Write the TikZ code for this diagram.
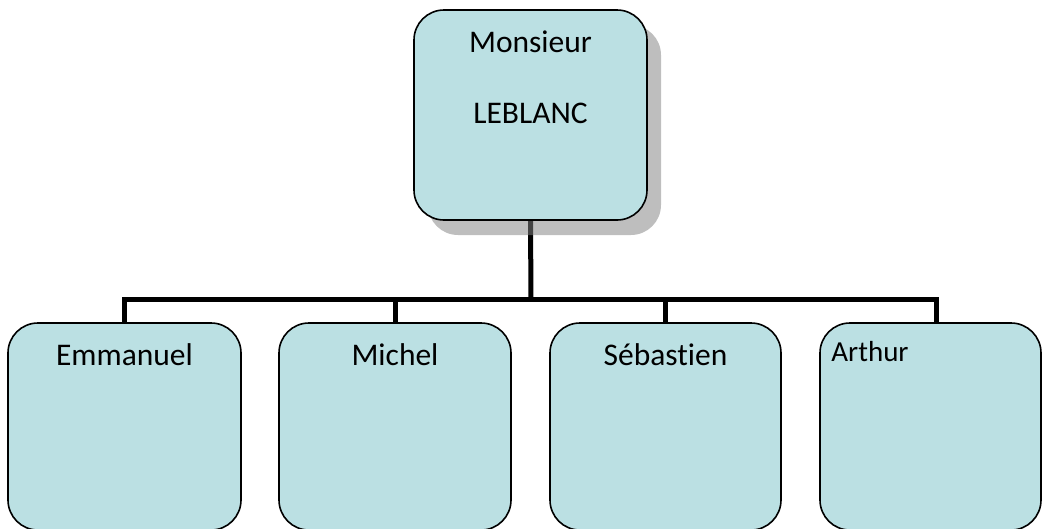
\documentclass[tikz,border=0pt]{standalone}
\usepackage{fontspec}
\setmainfont{Carlito}[Ligatures=NoCommon]
\usetikzlibrary{shadows,backgrounds}
\definecolor{boxfill}{RGB}{187,224,227}
\definecolor{shadowc}{RGB}{131,131,131}
\tikzset{
  person/.style={draw=black, line width=1.6pt, fill=boxfill, rounded corners=30pt,
    minimum width=233pt, inner sep=0pt},
  headbox/.style={person, minimum height=210pt,
    drop shadow={shadow xshift=14pt, shadow yshift=-15pt, fill=shadowc, opacity=0.52}},
  childbox/.style={person, minimum height=207pt},
  nametext/.style={inner sep=0pt, font=\fontsize{31.5}{37}\selectfont},
  smallnametext/.style={inner sep=0pt, font=\fontsize{29}{35}\selectfont},
  bus/.style={line width=5pt, line join=miter, black}
}
\begin{document}
\begin{tikzpicture}[x=1pt, y=-1pt]
  \useasboundingbox (0,0) rectangle (1042,528);
  \clip (0,0) rectangle (1042,528);

  % head of the family
  \node[headbox,
    label={[nametext, anchor=base, yshift=-43pt]north:Monsieur},
    label={[nametext, anchor=base, yshift=-114pt]north:LEBLANC}] (head) at (530.5,115) {};

  % children
  \node[childbox, minimum width=233pt,
    label={[nametext, anchor=base, yshift=-43pt]north:Emmanuel}] (emm) at (124.5,426.5) {};
  \node[childbox, minimum width=232pt,
    label={[nametext, anchor=base, yshift=-43pt]north:Michel}] (mic) at (395,426.5) {};
  \node[childbox, minimum width=231pt,
    label={[nametext, anchor=base, yshift=-43pt]north:Sébastien}] (seb) at (665.5,426.5) {};
  \node[childbox, minimum width=221pt,
    label={[smallnametext, anchor=base west, xshift=12pt, yshift=-39pt]north west:Arthur}] (art) at (930.5,426.5) {};

  % connectors, kept under the boxes
  \begin{scope}[on background layer]
    \coordinate (junction) at (531,299);
    \draw[bus] (head.south) -- (junction);
    \draw[bus] (emm.north) |- (junction) -| ([xshift=5.5pt]art.north);
    \draw[bus] (mic.north) -- (mic.north |- junction);
    \draw[bus] (seb.north) -- (seb.north |- junction);
  \end{scope}
\end{tikzpicture}
\end{document}
